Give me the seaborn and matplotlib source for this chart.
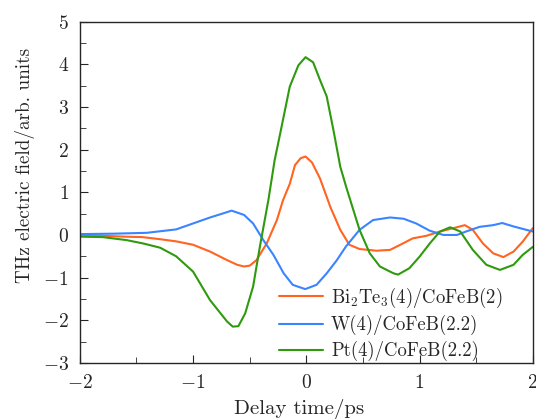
import numpy as np
import pandas as pd
import matplotlib
matplotlib.use('Agg')
import matplotlib.pyplot as plt
import seaborn as sns
from matplotlib.ticker import MultipleLocator

# Bi2Te3(4)/CoFeB(2)
bi_t = [-2.0, -1.8, -1.6, -1.45, -1.29, -1.15, -1.0, -0.85, -0.7, -0.61, -0.55, -0.5, -0.44,
        -0.35, -0.26, -0.205, -0.146, -0.1, -0.05, -0.007, 0.05, 0.12, 0.19, 0.21, 0.30, 0.38,
        0.47, 0.62, 0.74, 0.83, 0.94, 1.06, 1.18, 1.30, 1.40, 1.47, 1.56, 1.65, 1.74, 1.83,
        1.91, 2.0]
bi_e = [-0.02, -0.02, -0.04, -0.05, -0.1, -0.15, -0.23, -0.39, -0.59, -0.7, -0.74, -0.72, -0.59,
        -0.2, 0.35, 0.82, 1.2, 1.64, 1.8, 1.84, 1.7, 1.33, 0.82, 0.67, 0.12, -0.23,
        -0.33, -0.37, -0.35, -0.23, -0.08, -0.02, 0.08, 0.16, 0.23, 0.12, -0.2, -0.43, -0.52, -0.39,
        -0.16, 0.16]

# W(4)/CoFeB(2.2)
w_t = [-2.0, -1.7, -1.41, -1.15, -1.0, -0.85, -0.73, -0.66, -0.55, -0.47, -0.38, -0.29, -0.2,
       -0.12, -0.01, 0.09, 0.18, 0.27, 0.35, 0.47, 0.59, 0.74, 0.86, 0.97, 1.09, 1.21, 1.33,
       1.41, 1.53, 1.65, 1.73, 1.83, 2.0]
w_e = [0.02, 0.03, 0.05, 0.13, 0.27, 0.41, 0.51, 0.57, 0.47, 0.27, -0.12, -0.47, -0.9,
       -1.17, -1.27, -1.17, -0.9, -0.59, -0.27, 0.12, 0.35, 0.41, 0.38, 0.27, 0.1, 0.0, 0.0,
       0.08, 0.19, 0.23, 0.28, 0.2, 0.08]

# Pt(4)/CoFeB(2.2)
pt_t = [-2.0, -1.8, -1.59, -1.44, -1.29, -1.15, -1.0, -0.85, -0.7, -0.65, -0.6, -0.54, -0.47,
        -0.41, -0.335, -0.28, -0.23, -0.146, -0.07, -0.007, 0.06, 0.12, 0.18, 0.24, 0.30, 0.355,
        0.47, 0.56, 0.65, 0.77, 0.81, 0.91, 1.0, 1.09, 1.18, 1.27, 1.36, 1.47, 1.59, 1.71,
        1.83, 1.91, 2.0]
pt_e = [-0.04, -0.05, -0.12, -0.2, -0.3, -0.5, -0.86, -1.53, -2.03, -2.15, -2.14, -1.84, -1.21,
        -0.27, 0.82, 1.75, 2.39, 3.48, 3.98, 4.17, 4.05, 3.64, 3.25, 2.45, 1.6, 1.1,
        0.12, -0.43, -0.74, -0.9, -0.93, -0.78, -0.51, -0.2, 0.08, 0.18, 0.08, -0.35, -0.7, -0.82,
        -0.7, -0.47, -0.28]

labels = [r'Bi$_2$Te$_3$(4)/CoFeB(2)', 'W(4)/CoFeB(2.2)', 'Pt(4)/CoFeB(2.2)']
colors = ['#ff6420', '#3a84ff', '#2e9a0e']

sns.set_style('ticks')
plt.rcParams['font.family'] = ['serif']
plt.rcParams['font.serif'] = ['cmr10']
plt.rcParams['mathtext.fontset'] = 'cm'
plt.rcParams['axes.formatter.use_mathtext'] = True
plt.rcParams['axes.unicode_minus'] = True

fig = plt.figure(figsize=(5.36, 4.19), dpi=100)
ax = fig.add_axes([0.149, 0.134, 0.845, 0.814])

for t, e, lab, c in zip([bi_t, w_t, pt_t], [bi_e, w_e, pt_e], labels, colors):
    df = pd.DataFrame({'t': t, 'E': e})
    sns.lineplot(data=df, x='t', y='E', ax=ax, color=c, lw=1.5, label=lab, sort=False)

ax.set_xlim(-2, 2)
ax.set_ylim(-3, 5)
ax.xaxis.set_major_locator(MultipleLocator(1))
ax.xaxis.set_minor_locator(MultipleLocator(0.5))
ax.yaxis.set_major_locator(MultipleLocator(1))
ax.yaxis.set_minor_locator(MultipleLocator(0.5))
ax.tick_params(which='both', direction='in', top=False, right=False, labelsize=14)
ax.tick_params(which='major', length=6, pad=8)
ax.tick_params(which='minor', length=4)
for s in ax.spines.values():
    s.set_linewidth(1.0)
ax.set_xlabel('Delay time/ps', fontsize=15, va='center')
ax.set_ylabel('THz electric field/arb. units', fontsize=13.8, va='center')
ax.xaxis.set_label_coords(0.485, -0.135)
ax.yaxis.set_label_coords(-0.122, 0.578)
ax.legend(loc='lower right', frameon=False, fontsize=13.5, handlelength=2.35,
          handletextpad=0.43, borderaxespad=0, labelspacing=0.3,
          bbox_to_anchor=(0.95, -0.017))

fig.savefig('out.png', dpi=100)
